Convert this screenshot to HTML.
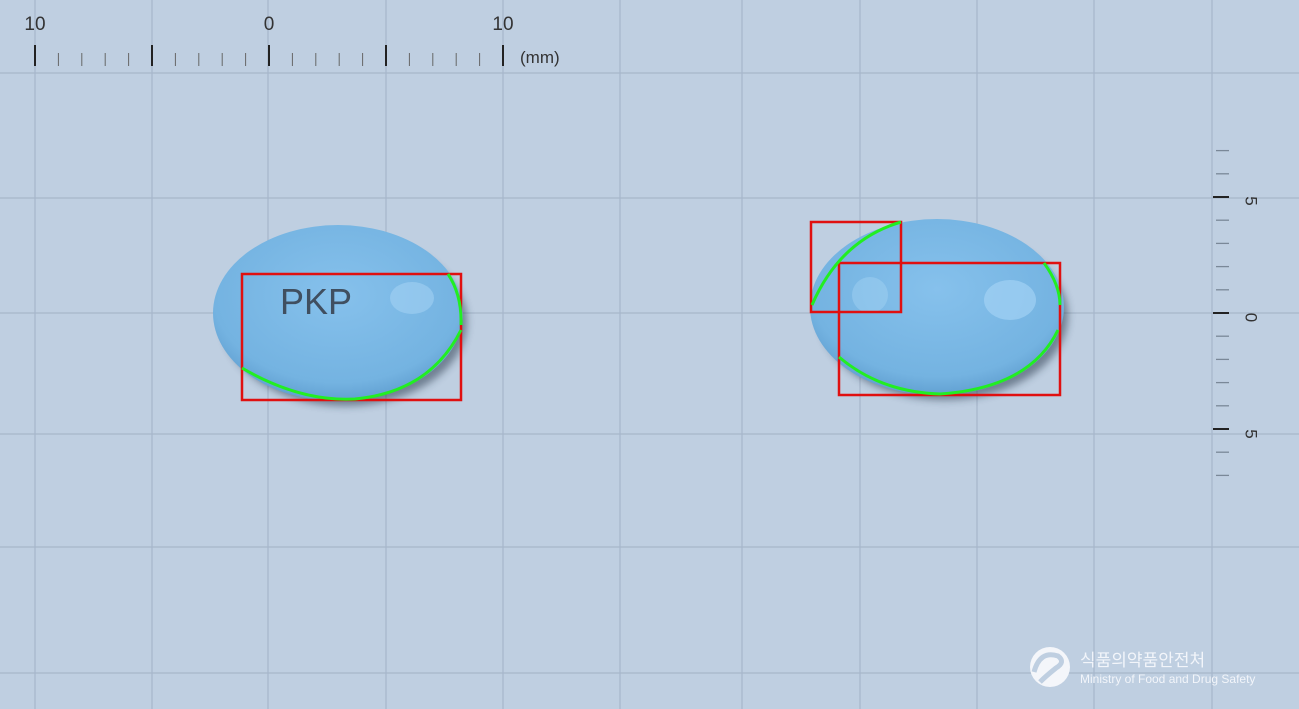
<!DOCTYPE html>
<html><head><meta charset="utf-8"><style>
html,body{margin:0;padding:0;background:#bfcfe1;}
svg{display:block;font-family:"Liberation Sans","Noto Sans CJK KR",sans-serif;}
</style></head><body>
<svg id="c" width="1299" height="709" viewBox="0 0 1299 709">
<defs>
<radialGradient id="pg" cx="0.5" cy="0.4" r="0.62">
<stop offset="0" stop-color="#86c1ec"/><stop offset="0.8" stop-color="#74b3e1"/><stop offset="1" stop-color="#5e9dcf"/>
</radialGradient>
<filter id="sh" x="-20%" y="-20%" width="140%" height="150%"><feGaussianBlur stdDeviation="4"/></filter>
</defs>
<rect width="1299" height="709" fill="#bfcfe1"/>
<g id="grid"></g>
<g id="ruler"></g>
<g>
<ellipse cx="345" cy="322" rx="122" ry="84" fill="#223344" opacity="0.5" filter="url(#sh)"/>
<ellipse cx="338" cy="313" rx="125" ry="88" fill="url(#pg)"/>
<ellipse cx="412" cy="298" rx="22" ry="16" fill="#a9d6f6" opacity="0.5"/>
<text x="280" y="314" font-size="36" fill="#404f60">PKP</text>
<rect x="242" y="274" width="219" height="126" fill="none" stroke="#e01010" stroke-width="2.5"/>
<path d="M242,368 Q300,402 355,399 Q430,392 461,330 M448,274 Q462,295 461,325" fill="none" stroke="#22ee22" stroke-width="3"/>
</g>
<g>
<ellipse cx="944" cy="316" rx="124" ry="84" fill="#223344" opacity="0.5" filter="url(#sh)"/>
<ellipse cx="937" cy="307" rx="127" ry="88" fill="url(#pg)"/>
<ellipse cx="1010" cy="300" rx="26" ry="20" fill="#a9d6f6" opacity="0.6"/>
<ellipse cx="870" cy="295" rx="18" ry="18" fill="#a9d6f6" opacity="0.4"/>
<rect x="811" y="222" width="90" height="90" fill="none" stroke="#e01010" stroke-width="2.5"/>
<rect x="839" y="263" width="221" height="132" fill="none" stroke="#e01010" stroke-width="2.5"/>
<path d="M901,222 Q840,240 812,305 M839,357 Q880,392 940,394 Q1030,388 1058,330 M1044,263 Q1060,285 1060,305" fill="none" stroke="#22ee22" stroke-width="3"/>
</g>
<g>
<circle cx="1050" cy="667" r="20" fill="#f4f6fa"/>
<path d="M1034,672 Q1040,650 1058,656 Q1066,662 1056,668 Q1046,676 1040,682" fill="none" stroke="#bfcfe1" stroke-width="5"/>
<text x="1080" y="666" font-size="17" fill="#f2f5fa">식품의약품안전처</text>
<text x="1080" y="683" font-size="12" fill="#f2f5fa">Ministry of Food and Drug Safety</text>
</g>
</svg>
<script>
const vLines=[35,152,268,386,503,620,742,860,977,1094,1212];
const hLines=[73,198,313,434,547,673];
const xLabels=["10","0","10"];
const yLabels=["5","0","5"];
const NS="http://www.w3.org/2000/svg";
function mk(t,a,p){const e=document.createElementNS(NS,t);for(const k in a)e.setAttribute(k,a[k]);p.appendChild(e);return e;}
const g=document.getElementById('grid');
vLines.forEach(x=>{const l=mk('line',{x1:x,x2:x,y1:0,y2:709,stroke:'#a6b6ca','stroke-width':1.2},g);

});
hLines.forEach(y=>{const l=mk('line',{x1:0,x2:1299,y1:y,y2:y,stroke:'#a6b6ca','stroke-width':1.2},g);

});
const r=document.getElementById('ruler');
for(let i=0;i<=20;i++){const x=35+i*23.4;const major=i%5==0;
const l=mk('line',{x1:x,x2:x,y1:major?45:53,y2:66,stroke:major?'#222':'#666','stroke-width':major?2:1},r);

}
xLabels.forEach((s,i)=>{const t=mk('text',{x:35+i*234,y:30,'font-size':19,'text-anchor':'middle',fill:'#333'},r);t.textContent=s;

});
const mm=mk('text',{x:520,y:63,'font-size':17,fill:'#333'},r);mm.textContent='(mm)';


for(let i=-7;i<=7;i++){const y=313+i*23.2;const major=i%5==0;
const l=mk('line',{x1:major?1213:1216,x2:1229,y1:y,y2:y,stroke:major?'#222':'#7a8898','stroke-width':major?2:1.3},r);

}
yLabels.forEach((s,i)=>{const y=201+i*116.5;const t=mk('text',{x:1250,y:y,'font-size':17,'text-anchor':'middle',fill:'#333',transform:`rotate(90 1250 ${y})`,'dominant-baseline':'middle'},r);t.textContent=s;

});
</script>
</body></html>
